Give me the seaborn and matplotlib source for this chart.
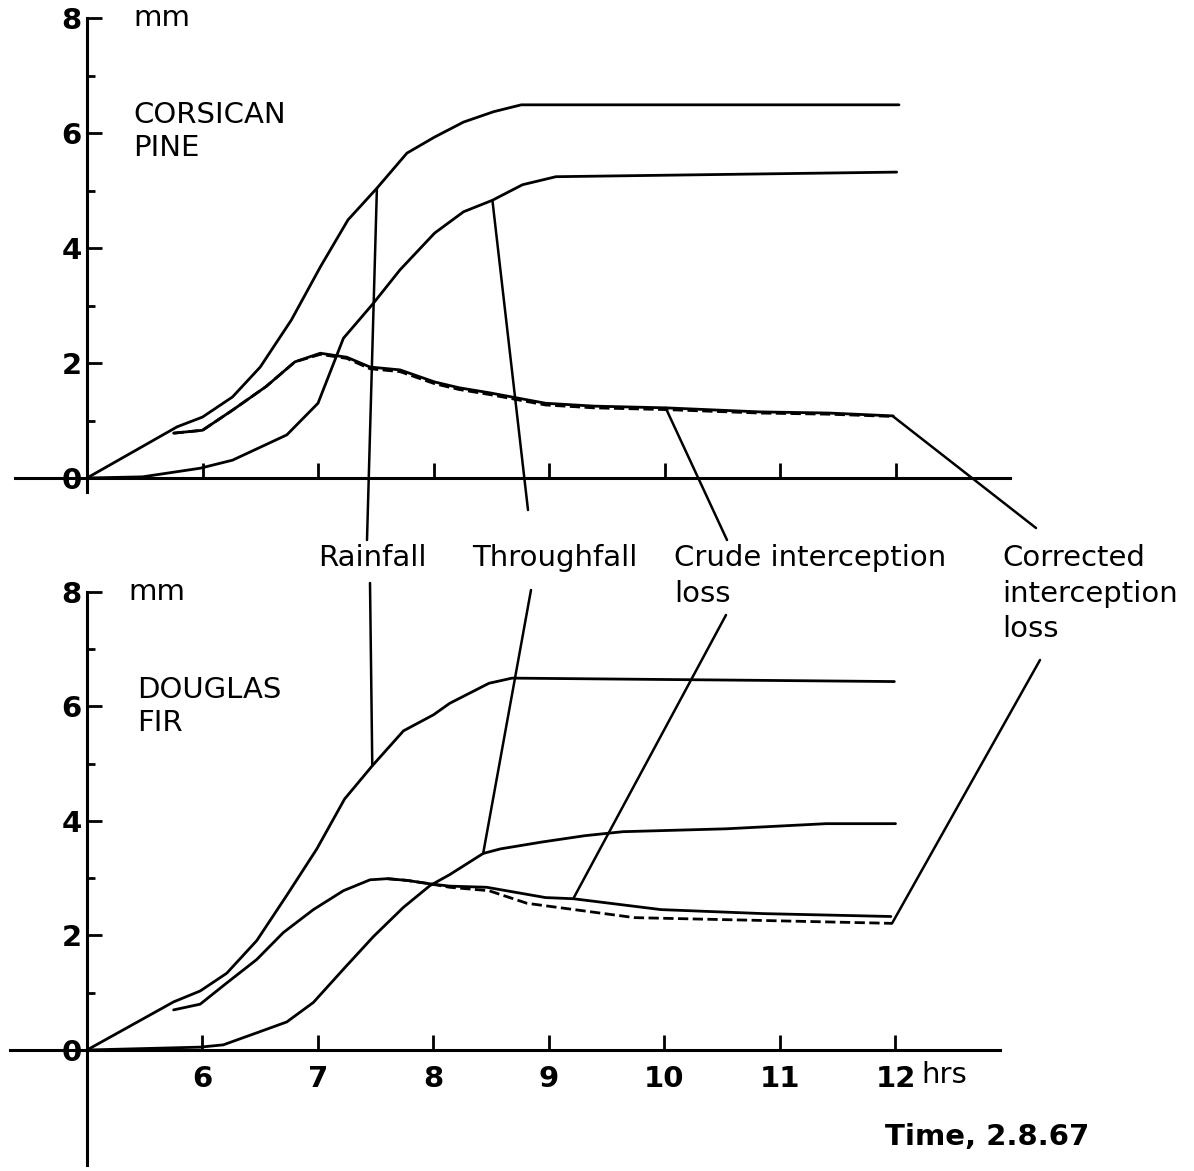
import numpy as np
import pandas as pd
import matplotlib
matplotlib.use("Agg")
import matplotlib.pyplot as plt
import seaborn as sns
from matplotlib.patches import ConnectionPatch

# ---------------- data (hours, mm) ----------------
# Corsican pine (top panel)
cp_rain_t = [5.0, 5.78, 6.0, 6.26, 6.5, 6.77, 7.02, 7.26, 7.51, 7.77, 8.01, 8.26, 8.52, 8.76, 12.03]
cp_rain_v = [0.0, 0.89, 1.06, 1.41, 1.93, 2.75, 3.67, 4.49, 5.04, 5.65, 5.93, 6.19, 6.37, 6.49, 6.49]
cp_thru_t = [5.0, 5.48, 5.98, 6.26, 6.73, 7.0, 7.22, 7.48, 7.71, 8.01, 8.26, 8.51, 8.77, 9.06, 12.01]
cp_thru_v = [0.0, 0.02, 0.17, 0.31, 0.75, 1.3, 2.43, 3.04, 3.62, 4.26, 4.63, 4.83, 5.1, 5.24, 5.32]
cp_crude_t = [5.75, 6.0, 6.26, 6.55, 6.8, 7.02, 7.25, 7.45, 7.71, 8.01, 8.22, 8.49, 8.73, 8.97, 9.39, 10.01, 10.82, 11.42, 11.98]
cp_crude_v = [0.78, 0.83, 1.18, 1.59, 2.02, 2.17, 2.1, 1.93, 1.88, 1.67, 1.57, 1.48, 1.39, 1.3, 1.25, 1.22, 1.15, 1.13, 1.08]
cp_corr_t = [5.75, 6.0, 6.26, 6.55, 6.8, 7.02, 7.25, 7.45, 7.71, 8.01, 8.22, 8.49, 8.73, 8.97, 9.39, 10.01, 10.82, 11.42, 11.98]
cp_corr_v = [0.78, 0.83, 1.18, 1.59, 2.02, 2.15, 2.08, 1.9, 1.85, 1.64, 1.54, 1.45, 1.36, 1.27, 1.22, 1.19, 1.13, 1.11, 1.07]

# Douglas fir (bottom panel)
df_rain_t = [5.0, 5.75, 5.98, 6.21, 6.47, 6.73, 6.99, 7.23, 7.47, 7.74, 8.0, 8.14, 8.48, 8.68, 11.99]
df_rain_v = [0.0, 0.84, 1.03, 1.34, 1.91, 2.7, 3.51, 4.38, 4.96, 5.57, 5.85, 6.05, 6.4, 6.49, 6.43]
df_thru_t = [5.0, 5.98, 6.18, 6.47, 6.73, 6.96, 7.22, 7.48, 7.74, 7.97, 8.14, 8.43, 8.58, 8.94, 9.31, 9.64, 10.53, 11.4, 12.0]
df_thru_v = [0.0, 0.05, 0.09, 0.3, 0.49, 0.83, 1.41, 1.98, 2.49, 2.87, 3.06, 3.43, 3.51, 3.63, 3.74, 3.81, 3.86, 3.95, 3.95]
df_crude_t = [5.75, 5.98, 6.21, 6.47, 6.7, 6.96, 7.22, 7.45, 7.6, 7.77, 7.97, 8.14, 8.46, 8.97, 9.21, 9.97, 10.86, 11.96]
df_crude_v = [0.7, 0.8, 1.17, 1.58, 2.05, 2.45, 2.78, 2.97, 2.99, 2.96, 2.9, 2.86, 2.84, 2.66, 2.64, 2.45, 2.38, 2.33]
df_corr_t = [7.6, 7.77, 7.97, 8.14, 8.48, 8.81, 9.74, 10.86, 11.97]
df_corr_v = [2.99, 2.96, 2.9, 2.84, 2.78, 2.56, 2.31, 2.26, 2.21]

x_ticks = [6, 7, 8, 9, 10, 11, 12]
x_ticklabels = ["6", "7", "8", "9", "10", "11", "12"]
y_major = [0, 2, 4, 6, 8]
y_minor = [1, 3, 5, 7]

labels = ["Rainfall", "Throughfall", "Crude interception\nloss", "Corrected\ninterception\nloss"]

# ---------------- layout ----------------
W, H = 1194, 1171
sns.set_style("white")
plt.rcParams["font.family"] = ["DejaVu Sans"]
plt.rcParams["text.color"] = "black"
fig = plt.figure(figsize=(W / 100, H / 100), dpi=100)

PX_HR = 115.5
X5 = 87.0  # pixel of hour 5
FS = 21


def make_axes(xl_px, xr_px, y0_px, px_mm, ylo, yhi):
    xlo = 5 + (xl_px - X5) / PX_HR
    xhi = 5 + (xr_px - X5) / PX_HR
    top_px = y0_px - yhi * px_mm
    bot_px = y0_px - ylo * px_mm
    ax = fig.add_axes([xl_px / W, 1 - bot_px / H, (xr_px - xl_px) / W, (bot_px - top_px) / H])
    ax.set_xlim(xlo, xhi)
    ax.set_ylim(ylo, yhi)
    ax.patch.set_alpha(0)
    for s in ["top", "right"]:
        ax.spines[s].set_visible(False)
    ax.spines["left"].set_position(("data", 5))
    ax.spines["bottom"].set_position(("data", 0))
    ax.spines["left"].set_bounds(ylo, 8)
    for s in ["left", "bottom"]:
        ax.spines[s].set_linewidth(2.2)
        ax.spines[s].set_color("black")
    ax.set_yticks(y_major)
    ax.set_yticks(y_minor, minor=True)
    ax.set_xticks(x_ticks)
    ax.tick_params(axis="y", which="major", direction="in", length=11, width=2, pad=4,
                   labelsize=FS, colors="black", left=True)
    ax.tick_params(axis="y", which="minor", direction="in", length=6, width=2,
                   colors="black", left=True)
    ax.tick_params(axis="x", which="major", direction="in", length=11, width=2, pad=11,
                   labelsize=FS, colors="black", bottom=True)
    for lab in ax.get_yticklabels():
        lab.set_fontweight("bold")
    return ax


ax_top = make_axes(15, 1010, 478, 57.5, -0.25, 8.1)
ax_bot = make_axes(10, 1000, 1050, 57.3, -2.0, 8.1)

ax_top.set_xticklabels([])
ax_bot.set_xticklabels(x_ticklabels, fontweight="bold")

LW = 2.0
for ax, series in [
    (ax_top, [(cp_rain_t, cp_rain_v, "-"), (cp_thru_t, cp_thru_v, "-"),
              (cp_corr_t, cp_corr_v, "--"), (cp_crude_t, cp_crude_v, "-")]),
    (ax_bot, [(df_rain_t, df_rain_v, "-"), (df_thru_t, df_thru_v, "-"),
              (df_corr_t, df_corr_v, "--"), (df_crude_t, df_crude_v, "-")]),
]:
    for t, v, ls in series:
        sns.lineplot(x=t, y=v, ax=ax, color="black", lw=LW, linestyle=ls,
                     estimator=None, sort=False)
    ax.set_xlabel("")
    ax.set_ylabel("")

# panel texts
ax_top.text(5.4, 8.0, "mm", fontsize=FS, va="center", ha="left")
ax_top.text(5.4, 6.55, "CORSICAN\nPINE", fontsize=FS, va="top", ha="left", linespacing=1.2)
ax_bot.text(5.36, 8.0, "mm", fontsize=FS, va="center", ha="left")
ax_bot.text(5.43, 6.52, "DOUGLAS\nFIR", fontsize=FS, va="top", ha="left", linespacing=1.2)
ax_bot.text(12.22, -0.44, "hrs", fontsize=FS, va="center", ha="left")


def fig_text(xp, yp, s, **kw):
    fig.text(xp / W, 1 - yp / H, s, fontsize=FS, **kw)


fig_text(885, 1137, "Time, 2.8.67", va="center", ha="left", fontweight="bold")
label_pos = [(318, 544), (472, 544), (674, 544), (1002, 544)]
for (xp, yp), s in zip(label_pos, labels):
    fig_text(xp, yp, s, va="top", ha="left", linespacing=1.35)


# leader lines: from curve points to label ends (figure pixels)
def leader(ax, t_arr, v_arr, t, xp, yp):
    y = float(np.interp(t, t_arr, v_arr))
    cp = ConnectionPatch(xyA=(t, y), coordsA=ax.transData,
                         xyB=(xp, H - yp), coordsB="figure pixels",
                         color="black", lw=1.8)
    fig.add_artist(cp)


leader(ax_top, cp_rain_t, cp_rain_v, 7.51, 367, 540)
leader(ax_bot, df_rain_t, df_rain_v, 7.47, 370, 583)
leader(ax_top, cp_thru_t, cp_thru_v, 8.51, 528, 510)
leader(ax_bot, df_thru_t, df_thru_v, 8.43, 531, 590)
leader(ax_top, cp_crude_t, cp_crude_v, 10.01, 727, 540)
leader(ax_bot, df_crude_t, df_crude_v, 9.21, 726, 615)
leader(ax_top, cp_corr_t, cp_corr_v, 11.98, 1036, 528)
leader(ax_bot, df_corr_t, df_corr_v, 11.97, 1040, 660)

fig.savefig("out.png", dpi=100, facecolor="white")
